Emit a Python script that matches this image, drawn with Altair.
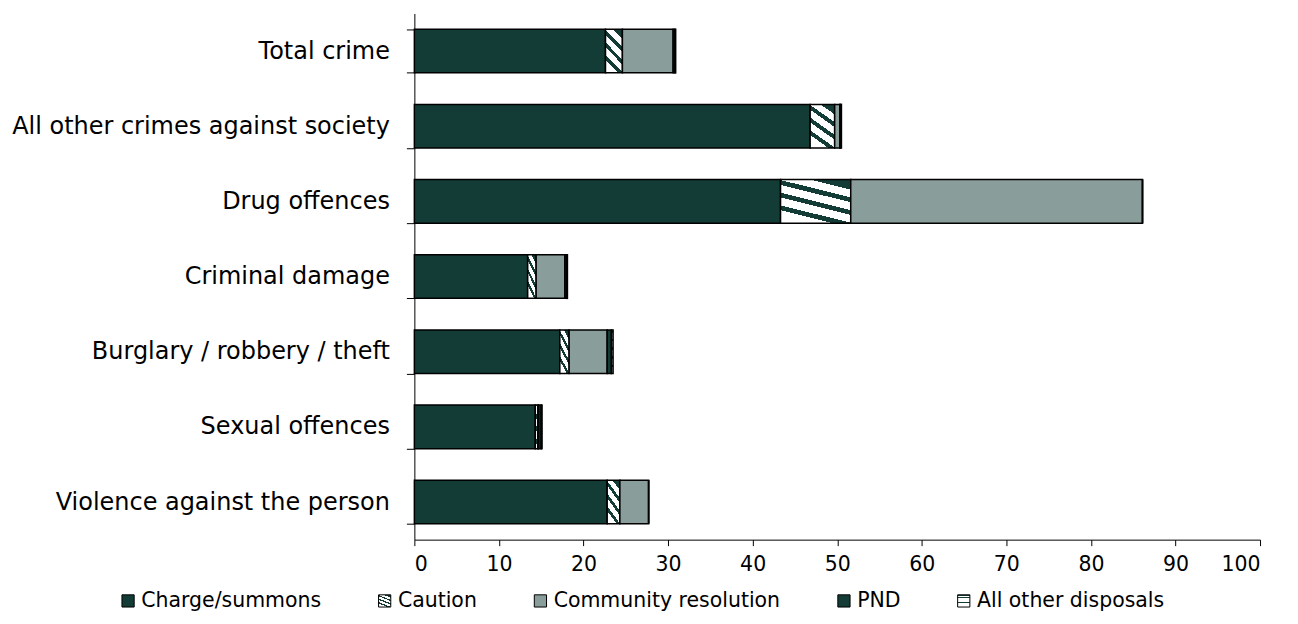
import altair as alt
import pandas as pd

crimes = [
    "Total crime",
    "All other crimes against society",
    "Drug offences",
    "Criminal damage",
    "Burglary / robbery / theft",
    "Sexual offences",
    "Violence against the person",
]
disposals = ["Charge/summons", "Caution", "Community resolution", "PND", "All other disposals"]

charge = [22.6, 46.8, 43.3, 13.4, 17.2, 14.3, 22.8]
caution = [2.0, 2.9, 8.3, 1.0, 1.1, 0.3, 1.5]
community = [6.0, 0.6, 34.5, 3.4, 4.5, 0.1, 3.4]
pnd = [0.2, 0.1, 0.0, 0.2, 0.5, 0.3, 0.0]
other = [0.1, 0.1, 0.0, 0.1, 0.2, 0.1, 0.0]

series = [charge, caution, community, pnd, other]
rows = []
for i, c in enumerate(crimes):
    for k, d in enumerate(disposals):
        rows.append({"crime": c, "disposal": d, "value": series[k][i], "order": k})
df = pd.DataFrame(rows)

DARK = "#133c37"
WHITE = "#ffffff"


def stripes(n, frac):
    out = []
    for k in range(n):
        s = k / n
        m = s + frac / n
        e = (k + 1) / n
        out += [(s, DARK), (m, DARK), (m, WHITE), (e, WHITE)]
    return out


def grad_expr(x1, y1, x2, y2, stops):
    st = ",".join("{offset:%.4f,color:'%s'}" % (o, c) for o, c in stops)
    return "{gradient:'linear',x1:%g,y1:%g,x2:%g,y2:%g,stops:[%s]}" % (x1, y1, x2, y2, st)


caution_fill = alt.ExprRef(expr=grad_expr(0.7, 0, 0.3, 1, stripes(4, 0.38)))
other_fill = alt.ExprRef(expr=grad_expr(0, 0, 0, 1, stripes(5, 0.3)))
fill_range = [DARK, caution_fill, "#899d9b", DARK, other_fill]

FONT = "DejaVu Sans"

chart = (
    alt.Chart(df)
    .mark_bar(stroke="black", strokeWidth=1.5)
    .encode(
        y=alt.Y(
            "crime:N",
            sort=crimes,
            scale=alt.Scale(paddingInner=0.42, paddingOuter=0.21),
            axis=alt.Axis(
                title=None,
                tickBand="extent",
                tickSize=8,
                labelFontSize=24,
                labelFont=FONT,
                labelPadding=17,
                labelColor="black",
                domainColor="black",
                tickColor="black",
                labelLimit=0,
            ),
        ),
        x=alt.X(
            "value:Q",
            stack="zero",
            scale=alt.Scale(domain=[0, 100], nice=False),
            axis=alt.Axis(
                title=None,
                values=list(range(0, 101, 10)),
                grid=False,
                tickSize=6,
                labelFontSize=20.5,
                labelFont=FONT,
                labelPadding=9,
                labelColor="black",
                domainColor="black",
                tickColor="black",
            ),
        ),
        fill=alt.Fill(
            "disposal:N",
            scale=alt.Scale(domain=disposals, range=fill_range),
            legend=alt.Legend(
                title=None,
                orient="none",
                legendX=-297,
                legendY=578,
                direction="horizontal",
                symbolType="square",
                symbolSize=150,
                symbolStrokeColor="black",
                symbolStrokeWidth=1,
                symbolOpacity=1,
                labelFontSize=20.5,
                labelFont=FONT,
                labelColor="black",
                columnPadding=53,
                labelOffset=3,
                labelLimit=0,
            ),
        ),
        order=alt.Order("order:Q"),
    )
    .properties(
        width=847,
        height=527,
        autosize=alt.AutoSizeParams(type="none"),
        padding={"left": 407, "top": 5, "right": 30, "bottom": 80},
        background="white",
    )
    .configure_view(stroke=None)
)

chart.save("out.html", embed_options={"renderer": "svg", "actions": False})
